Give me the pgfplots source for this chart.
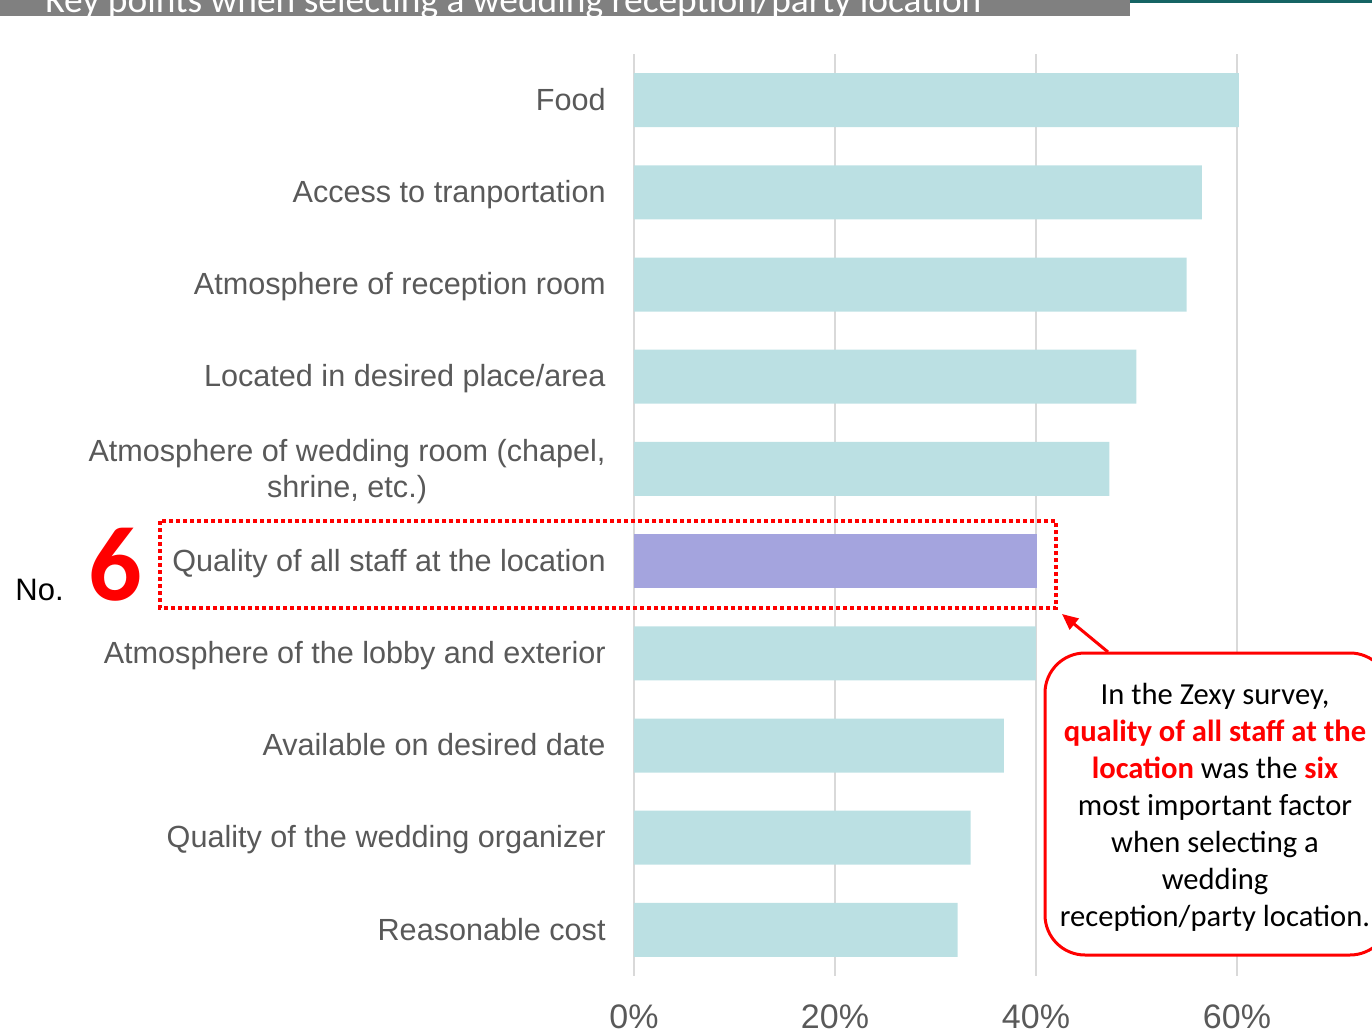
\documentclass[border=0pt]{standalone}
\usepackage{pgfplots}
\pgfplotsset{compat=1.18}
\usepackage{fontspec}
\setmainfont{Liberation Sans}
\newfontfamily\calibri{Carlito}
\usetikzlibrary{arrows.meta}
\definecolor{barteal}{RGB}{187,224,227}
\definecolor{barpurple}{RGB}{164,164,222}
\definecolor{gridgray}{RGB}{217,217,217}
\definecolor{labelgray}{RGB}{89,89,89}
\definecolor{titlegray}{RGB}{128,128,128}
\definecolor{darkteal}{RGB}{22,100,100}
\definecolor{pred}{RGB}{255,0,0}
\begin{document}
\begin{tikzpicture}
\begin{scope}
\clip (0,0) rectangle (686pt,-516pt);
\begin{axis}[
  at={(317pt,-488pt)}, anchor=south west,
  scale only axis, width=351.75pt, height=461pt,
  xmin=0, xmax=70, ymin=-0.5, ymax=9.5, y dir=reverse,
  xbar, bar width=27pt, bar shift=0pt,
  axis line style={draw=none},
  xtick={0,20,40,60}, xticklabels={0\%,20\%,40\%,60\%},
  xmajorgrids, grid style={draw=gridgray, line width=1pt},
  major tick length=0pt,
  ytick={0,1,2,3,5,6,7,8,9},
  yticklabels={Food,Access to tranportation,Atmosphere of reception room,Located in desired place/area,Quality of all staff at the location,Atmosphere of the lobby and exterior,Available on desired date,Quality of the wedding organizer,Reasonable cost},
  extra y ticks={4},
  extra y tick labels={{Atmosphere of wedding room (chapel{,}\\shrine{,} etc.)}},
  extra y tick style={yticklabel style={yshift=-9pt}},
  yticklabel style={align=center, inner sep=0pt, xshift=-14pt, yshift=-1.5pt, text height=0.72em, text depth=0pt, text=labelgray, font=\fontsize{15.3}{18}\selectfont},
  xticklabel style={inner sep=0pt, yshift=-14pt, text=labelgray, font=\fontsize{17}{20}\selectfont},
]
\addplot[fill=barteal, draw=none] coordinates {(60.2,0) (56.5,1) (55.0,2) (50.0,3) (47.3,4) (40.0,6) (36.8,7) (33.5,8) (32.2,9)};
\addplot[fill=barpurple, draw=none] coordinates {(40.1,5)};
\end{axis}
\begin{scope}[x=0.5pt,y=-0.5pt]
  % title bar
  \fill[titlegray] (0,0) rectangle (1130,16);
  \node[anchor=base west, inner sep=0pt, text=white, font=\calibri\fontsize{18.7}{22}\selectfont] at (45,13) {Key points when selecting a wedding reception/party location};
  \fill[darkteal] (1130,0) rectangle (1372,3);
  % dotted highlight
  \draw[pred, line width=2pt, dash pattern=on 2pt off 1.5pt] (160,521) rectangle (1056,608);
  % No. 6
  \node[anchor=base west, inner sep=0pt, font=\fontsize{15.5}{18}\selectfont] at (15,600) {No.};
  \node[anchor=base, inner sep=0pt, text=pred, font=\calibri\bfseries\fontsize{53}{60}\selectfont] at (115,600) {6};
  % arrow
  \draw[pred, line width=1.5pt, -{Triangle[length=8pt,width=7pt]}] (1108,652) -- (1062,614);
  % callout
  \draw[pred, fill=white, line width=1.5pt, rounded corners=20pt] (1045,653) rectangle (1390,955);
  \node[align=center, inner sep=0pt, font=\calibri\fontsize{15.3}{18.5}\selectfont] at (1215,807) {In the Zexy survey,\\
  \textcolor{pred}{\bfseries quality of all staff at the}\\
  \textcolor{pred}{\bfseries location} was the \textcolor{pred}{\bfseries six}\\
  most important factor\\
  when selecting a\\
  wedding\\
  reception/party location.};
\end{scope}
\end{scope}
\pgfresetboundingbox
\path (0,0) rectangle (686pt,-516pt);
\end{tikzpicture}
\end{document}
